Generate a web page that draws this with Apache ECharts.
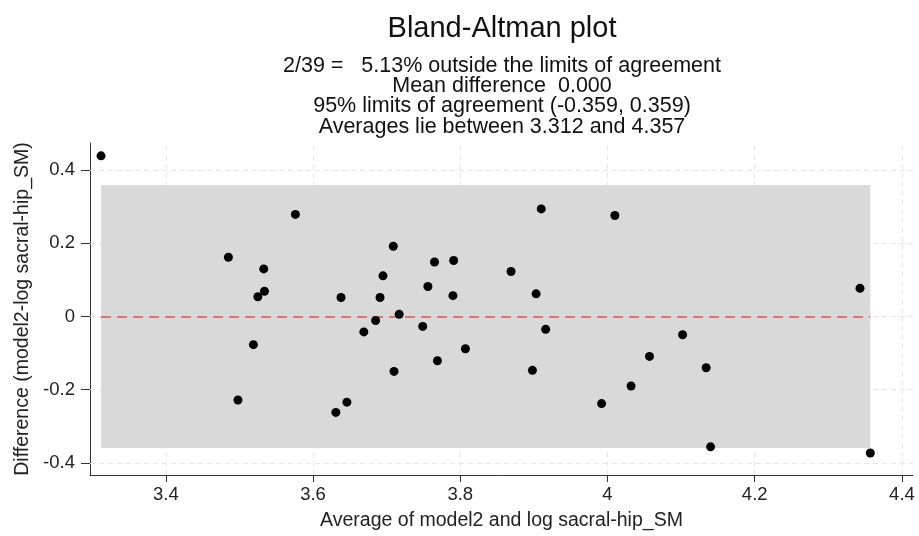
<!DOCTYPE html>
<html>
<head>
<meta charset="utf-8">
<script src="https://cdn.jsdelivr.net/npm/echarts@6/dist/echarts.min.js"></script>
<style>
html,body{margin:0;padding:0;background:#fff;}
#c{width:919px;height:536px;}
</style>
</head>
<body>
<div id="c"></div>
<script>
// Data
const avgValues = [3.312,3.576,3.485,3.533,3.534,3.525,3.519,3.498,3.910,4.010,
  3.709,3.765,3.791,3.695,3.869,3.756,3.638,3.691,3.790,3.903,
  3.717,3.685,3.669,3.749,3.916,3.807,3.769,3.710,3.898,3.646,
  3.631,3.992,4.343,4.102,4.057,4.134,4.032,4.140,4.357];
const diffValues = [0.439,0.279,0.162,0.130,0.069,0.054,-0.077,-0.228,0.294,0.276,
  0.192,0.149,0.153,0.111,0.123,0.082,0.052,0.052,0.057,0.062,
  0.006,-0.011,-0.042,-0.027,-0.035,-0.088,-0.121,-0.150,-0.147,-0.234,
  -0.262,-0.238,0.077,-0.050,-0.109,-0.140,-0.190,-0.356,-0.373];
const meanDiff = 0.000;
const limitsOfAgreement = [-0.359, 0.359];
const avgRange = [3.312, 4.357];
const xTicks = [3.4, 3.6, 3.8, 4, 4.2, 4.4];
const yTicks = [-0.4, -0.2, 0, 0.2, 0.4];
const titleText = 'Bland-Altman plot';
const subtitleLines = [
  '2/39 =   5.13% outside the limits of agreement',
  'Mean difference  0.000',
  '95% limits of agreement (-0.359, 0.359)',
  'Averages lie between 3.312 and 4.357'
];
const xName = 'Average of model2 and log sacral-hip_SM';
const yName = 'Difference (model2-log sacral-hip_SM)';

const FONT = "'Liberation Sans', Arial, sans-serif";
const chart = echarts.init(document.getElementById('c'), null, {renderer: 'canvas'});
const points = avgValues.map((x, i) => [x, diffValues[i]]);

const gridLineStyle = {color: '#e6e6e6', width: 1, type: [5, 4]};
const CENTER_X = 502;

const titles = [{
  text: titleText, left: CENTER_X, top: 14, padding: 0, textAlign: 'center',
  textStyle: {fontFamily: FONT, fontSize: 29, fontWeight: 'normal', color: '#111'}
}].concat(subtitleLines.map((line, i) => ({
  text: line, left: CENTER_X, top: 55 + i * 20.3, padding: 0, textAlign: 'center',
  textStyle: {fontFamily: FONT, fontSize: 21.5, lineHeight: 21.5, fontWeight: 'normal', color: '#111'}
})));

chart.setOption({
  animation: false,
  backgroundColor: '#ffffff',
  title: titles,
  grid: {left: 90, right: 6, top: 143, bottom: 59, containLabel: false},
  xAxis: {
    type: 'value', min: 3.297, max: 4.415,
    name: xName, nameLocation: 'middle', nameGap: 36,
    nameTextStyle: {fontFamily: FONT, fontSize: 19.5, color: '#222'},
    axisLine: {show: true, onZero: false, lineStyle: {color: '#333', width: 1}},
    axisTick: {show: true, length: 7, customValues: xTicks, lineStyle: {color: '#333'}},
    axisLabel: {customValues: xTicks, margin: 10, fontFamily: FONT, fontSize: 18.5, color: '#222'},
    splitLine: {show: false}
  },
  yAxis: {
    type: 'value', min: -0.433, max: 0.474,
    name: yName, nameLocation: 'middle', nameGap: 50, nameRotate: 90,
    nameTextStyle: {fontFamily: FONT, fontSize: 19.5, color: '#222'},
    axisLine: {show: true, onZero: false, lineStyle: {color: '#333', width: 1}},
    axisTick: {show: true, length: 9, customValues: yTicks, lineStyle: {color: '#333'}},
    axisLabel: {customValues: yTicks, margin: 15, fontFamily: FONT, fontSize: 18.5, color: '#222'},
    splitLine: {show: false}
  },
  series: [
    {
      name: 'grid', type: 'scatter', data: [], silent: true, z: 1,
      markLine: {
        silent: true, symbol: 'none', z: 1, animation: false,
        label: {show: false},
        lineStyle: gridLineStyle,
        data: xTicks.map(v => ({xAxis: v})).concat(yTicks.map(v => ({yAxis: v})))
      }
    },
    {
      name: 'band', type: 'scatter', data: [], silent: true, z: 2,
      markArea: {
        silent: true, z: 2,
        itemStyle: {color: '#d9d9d9', opacity: 1},
        data: [[{coord: [avgRange[0], limitsOfAgreement[1]]}, {coord: [avgRange[1], limitsOfAgreement[0]]}]]
      }
    },
    {
      name: 'mean', type: 'scatter', data: [], silent: true, z: 3,
      markLine: {
        silent: true, symbol: 'none', z: 3, animation: false,
        label: {show: false},
        lineStyle: {color: '#d67878', width: 1.8, type: [10, 6]},
        data: [[{coord: [avgRange[0], meanDiff]}, {coord: [avgRange[1], meanDiff]}]]
      }
    },
    {
      name: 'points', type: 'scatter', data: points, z: 4,
      symbol: 'circle', symbolSize: 9,
      itemStyle: {color: '#000', opacity: 1}
    }
  ]
});
</script>
</body>
</html>
